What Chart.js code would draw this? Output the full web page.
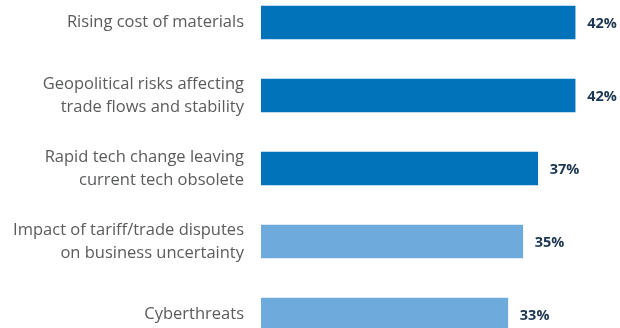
<!DOCTYPE html>
<html>
<head>
<meta charset="utf-8">
<script src="https://cdn.jsdelivr.net/npm/chart.js@4"></script>
<style>
  html, body { margin: 0; padding: 0; background: #fff; overflow: hidden; }
  #wrap { position: absolute; left: 0; top: -14px; width: 620px; height: 365px; }
</style>
</head>
<body>
<div id="wrap"><canvas id="risks"></canvas></div>
<script>
var labels = [
    "Rising cost of materials",
    ["Geopolitical risks affecting", "trade flows and stability"],
    ["Rapid tech change leaving", "current tech obsolete"],
    ["Impact of tariff/trade disputes", "on business uncertainty"],
    "Cyberthreats"
];
var values = [42, 42, 37, 35, 33];
var barColors = ["#0073bb", "#0073bb", "#0073bb", "#6eaadc", "#6eaadc"];

// writes the percentage just past the end of each bar
var valueLabels = {
    id: "valueLabels",
    afterDatasetsDraw: function(chart) {
        var ctx = chart.ctx;
        var meta = chart.getDatasetMeta(0);
        ctx.save();
        ctx.font = "bold 14.5px 'Open Sans', sans-serif";
        ctx.fillStyle = "#1c3651";
        ctx.textAlign = "left";
        ctx.textBaseline = "middle";
        meta.data.forEach(function(bar, i) {
            ctx.fillText(values[i] + "%", bar.x + 12, bar.y + 1);
        });
        ctx.restore();
    }
};

new Chart(document.getElementById("risks"), {
    type: "bar",
    data: {
        labels: labels,
        datasets: [{
            data: values,
            backgroundColor: barColors,
            barThickness: 33
        }]
    },
    options: {
        indexAxis: "y",
        responsive: true,
        maintainAspectRatio: false,
        animation: false,
        layout: { padding: 0 },
        plugins: {
            legend: { display: false },
            tooltip: { enabled: false }
        },
        scales: {
            x: {
                display: false,
                min: 0,
                max: 48
            },
            y: {
                grid: { display: false, drawTicks: false },
                border: { display: false },
                afterFit: function(scale) {
                    // fixed label column, and no extra room above/below the bands
                    scale.width = 261;
                    scale.paddingTop = 0;
                    scale.paddingBottom = 0;
                },
                ticks: {
                    padding: 17,
                    color: "#5a5b5d",
                    font: { family: "'Open Sans', sans-serif", size: 16.5, lineHeight: 1.4 }
                }
            }
        }
    },
    plugins: [valueLabels]
});
</script>
</body>
</html>
